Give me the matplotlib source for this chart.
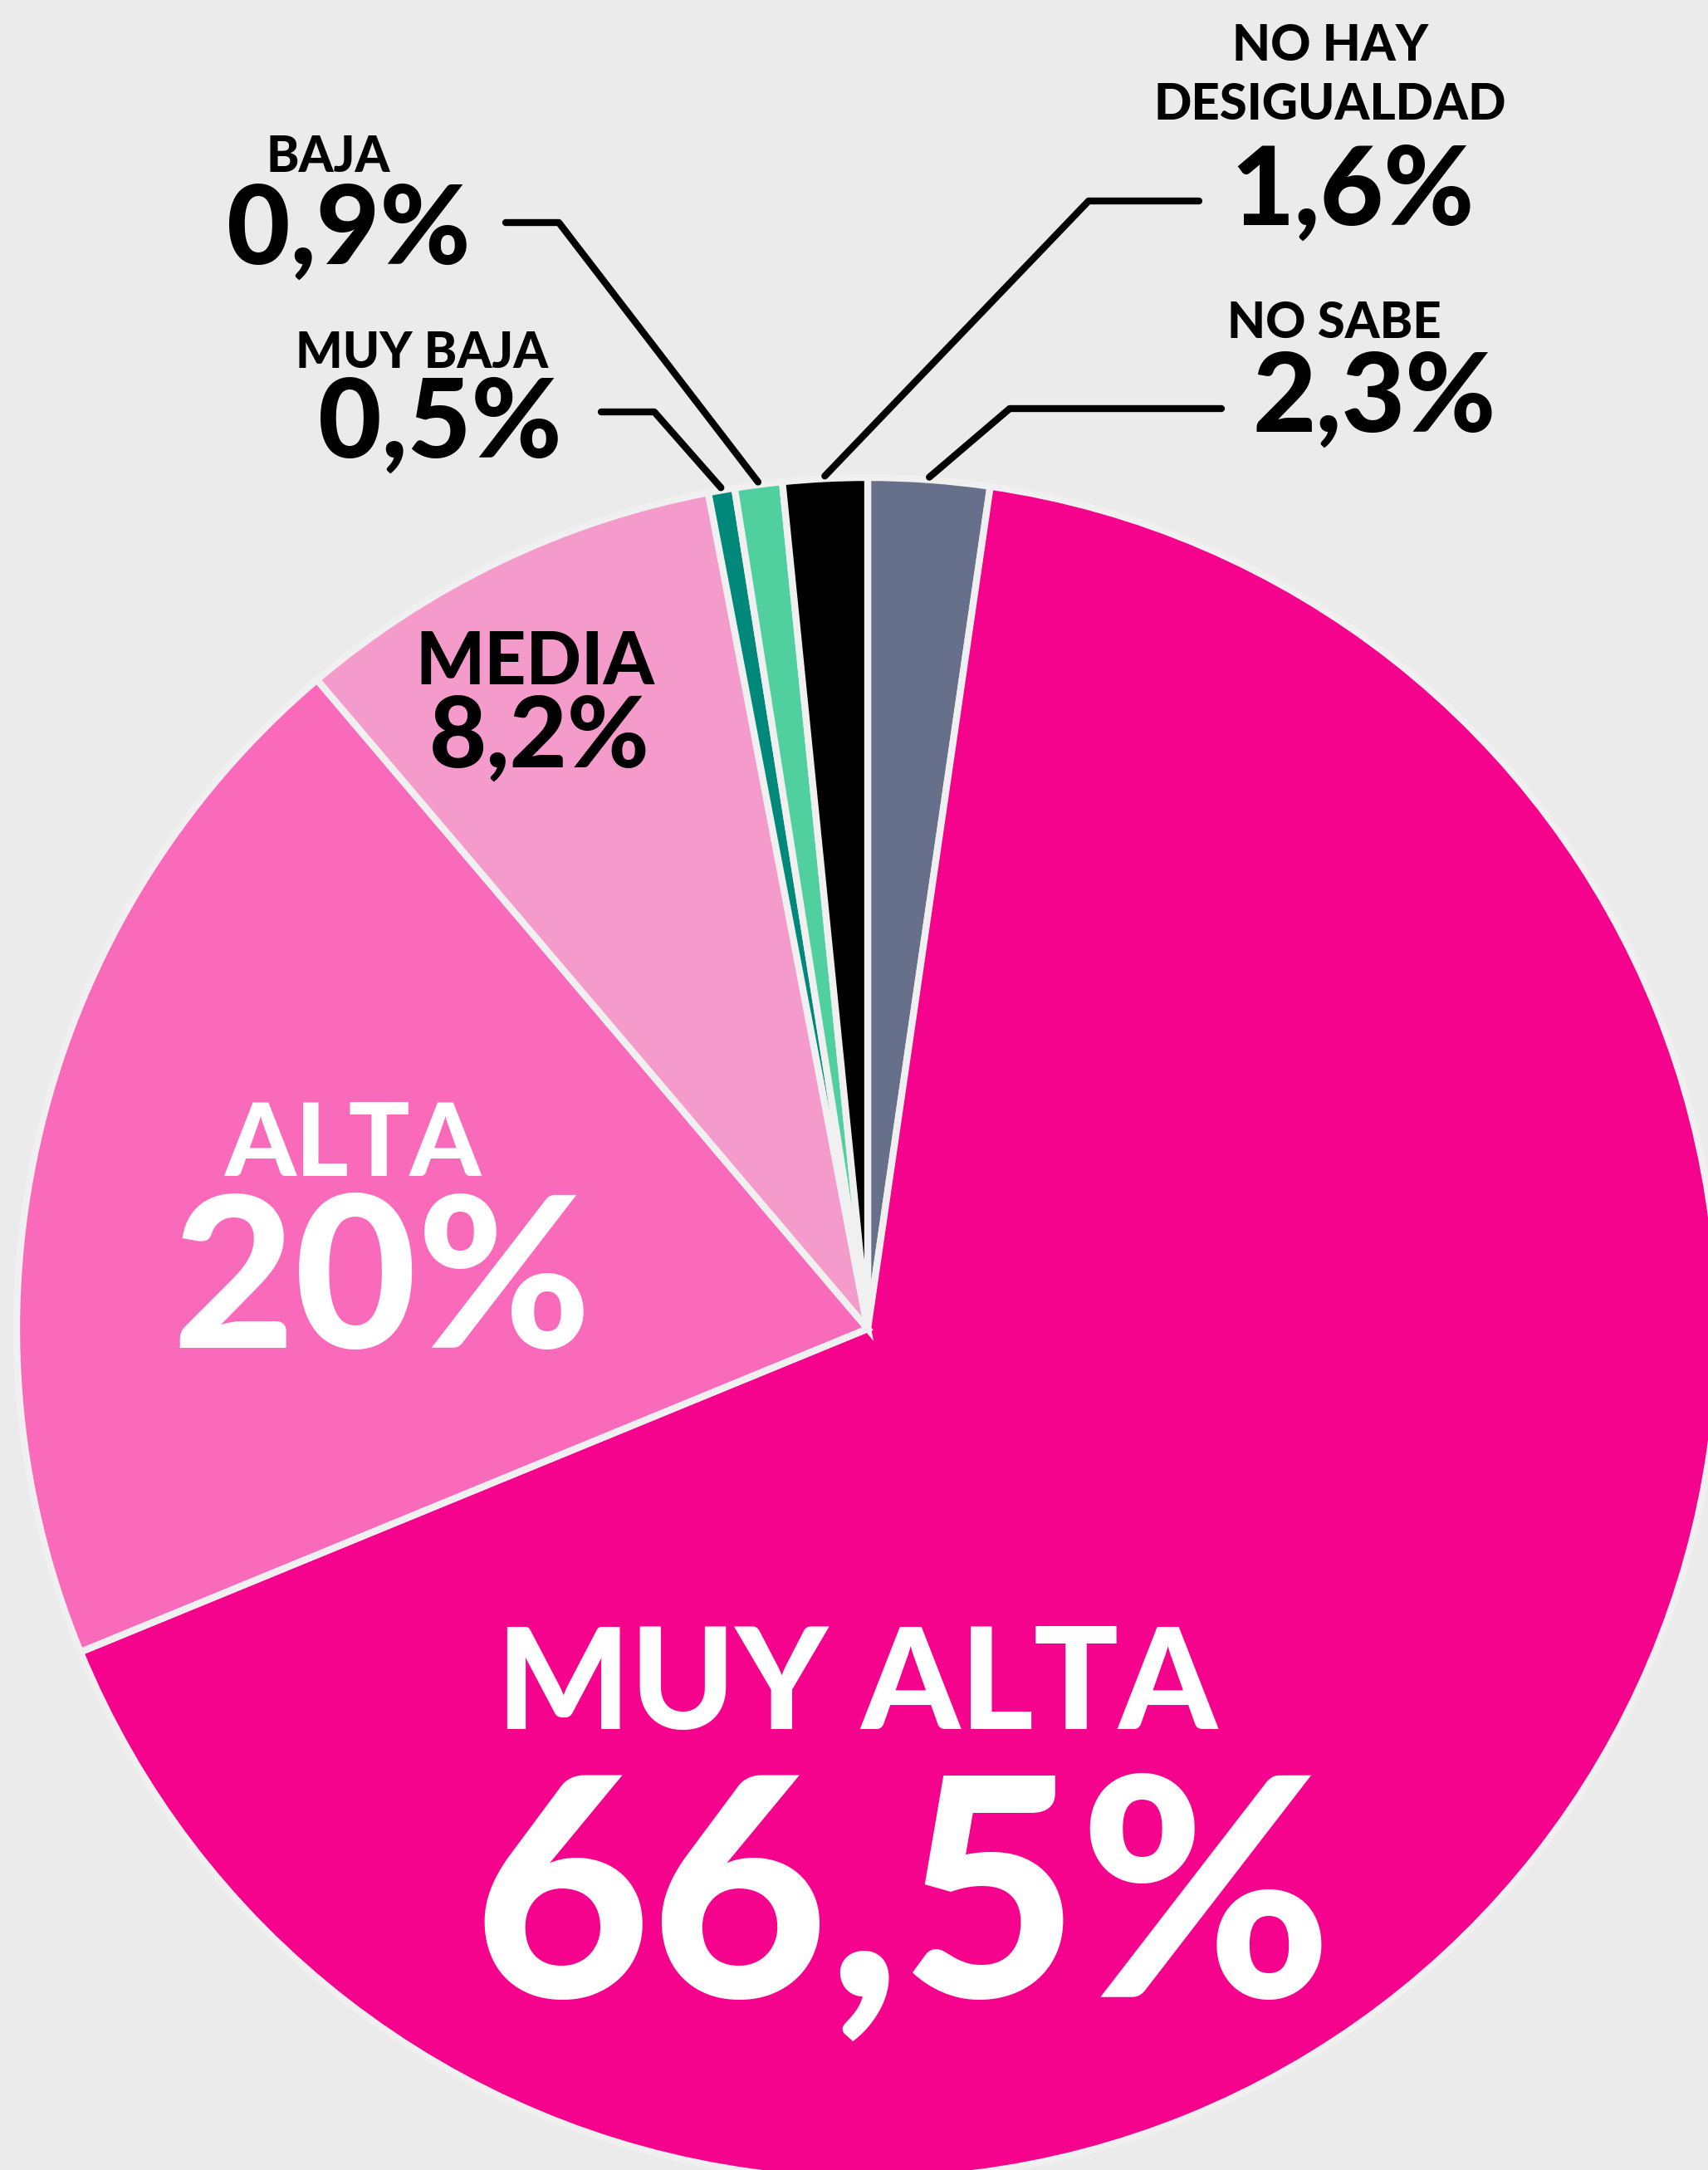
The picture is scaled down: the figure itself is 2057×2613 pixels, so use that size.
import numpy as np
import matplotlib
matplotlib.use("Agg")
import matplotlib.pyplot as plt

# data (clockwise from 12 o'clock)
categories = ["NO SABE", "MUY ALTA", "ALTA", "MEDIA", "MUY BAJA", "BAJA", "NO HAY\nDESIGUALDAD"]
values = [2.3, 66.5, 20.0, 8.2, 0.5, 0.9, 1.6]
value_labels = ["2,3%", "66,5%", "20%", "8,2%", "0,5%", "0,9%", "1,6%"]
colors = ["#66708A", "#F5038C", "#FA6ABA", "#F59BCB", "#00897A", "#4FD09E", "#000000"]

W, H = 2057, 2613
plt.rcParams['font.family'] = ['Lato', 'DejaVu Sans']

fig = plt.figure(figsize=(W / 100, H / 100), dpi=100)
fig.patch.set_facecolor("#EBEBEB")
ax = fig.add_axes([0, 0, 1, 1])
ax.set_facecolor("#EBEBEB")

cx, cy, R = 1045, H - 1600, 1025
wedges, _ = ax.pie(values, colors=colors, startangle=90, counterclock=False,
                   center=(cx, cy), radius=R,
                   wedgeprops=dict(edgecolor="#F0F0F0", linewidth=6))
ax.set_xlim(0, W)
ax.set_ylim(0, H)
ax.set_aspect("equal")
ax.axis("off")


def txt(x, y, s, size, color="black"):
    # x, y in pixel coords from top-left, y is baseline
    ax.text(x, H - y, s, fontsize=size, fontweight="black", color=color,
            ha="center", va="baseline", zorder=5)


# big labels inside the wedges
txt(1032, 2082, categories[1], 122, "white")
txt(1087, 2405, value_labels[1], 266, "white")
txt(425, 1416, categories[2], 88, "white")
txt(460, 1623, value_labels[2], 183, "white")
txt(644, 824, categories[3], 63)
txt(650, 924, value_labels[3], 86)

# small labels outside with leader lines
outside = {
    0: dict(name=(1607, 407), val=(1655, 520), elbow=[(1471, 492), (1216, 492)]),
    4: dict(name=(508, 443), val=(530, 551), elbow=[(724, 496), (788, 496)]),
    5: dict(name=(395, 207), val=(420, 318), elbow=[(609, 268), (673, 268)]),
    6: dict(name=(1602, 73), val=(1629, 271), elbow=[(1444, 242), (1311, 242)]),
}
for i, o in outside.items():
    name = categories[i]
    if "\n" in name:
        a, b = name.split("\n")
        txt(o["name"][0], o["name"][1], a, 43)
        txt(o["name"][0], o["name"][1] + 71, b, 43)
    else:
        txt(o["name"][0], o["name"][1], name, 43)
    txt(o["val"][0], o["val"][1], value_labels[i], 95)
    w = wedges[i]
    ang = np.deg2rad((w.theta1 + w.theta2) / 2)
    ex = cx + 1.003 * R * np.cos(ang)
    ey = cy + 1.003 * R * np.sin(ang)
    xs = [p[0] for p in o["elbow"]] + [ex]
    ys = [H - p[1] for p in o["elbow"]] + [ey]
    ax.plot(xs, ys, color="black", linewidth=6, solid_capstyle="round", zorder=4)

fig.savefig("out.png", dpi=100, facecolor=fig.get_facecolor())
